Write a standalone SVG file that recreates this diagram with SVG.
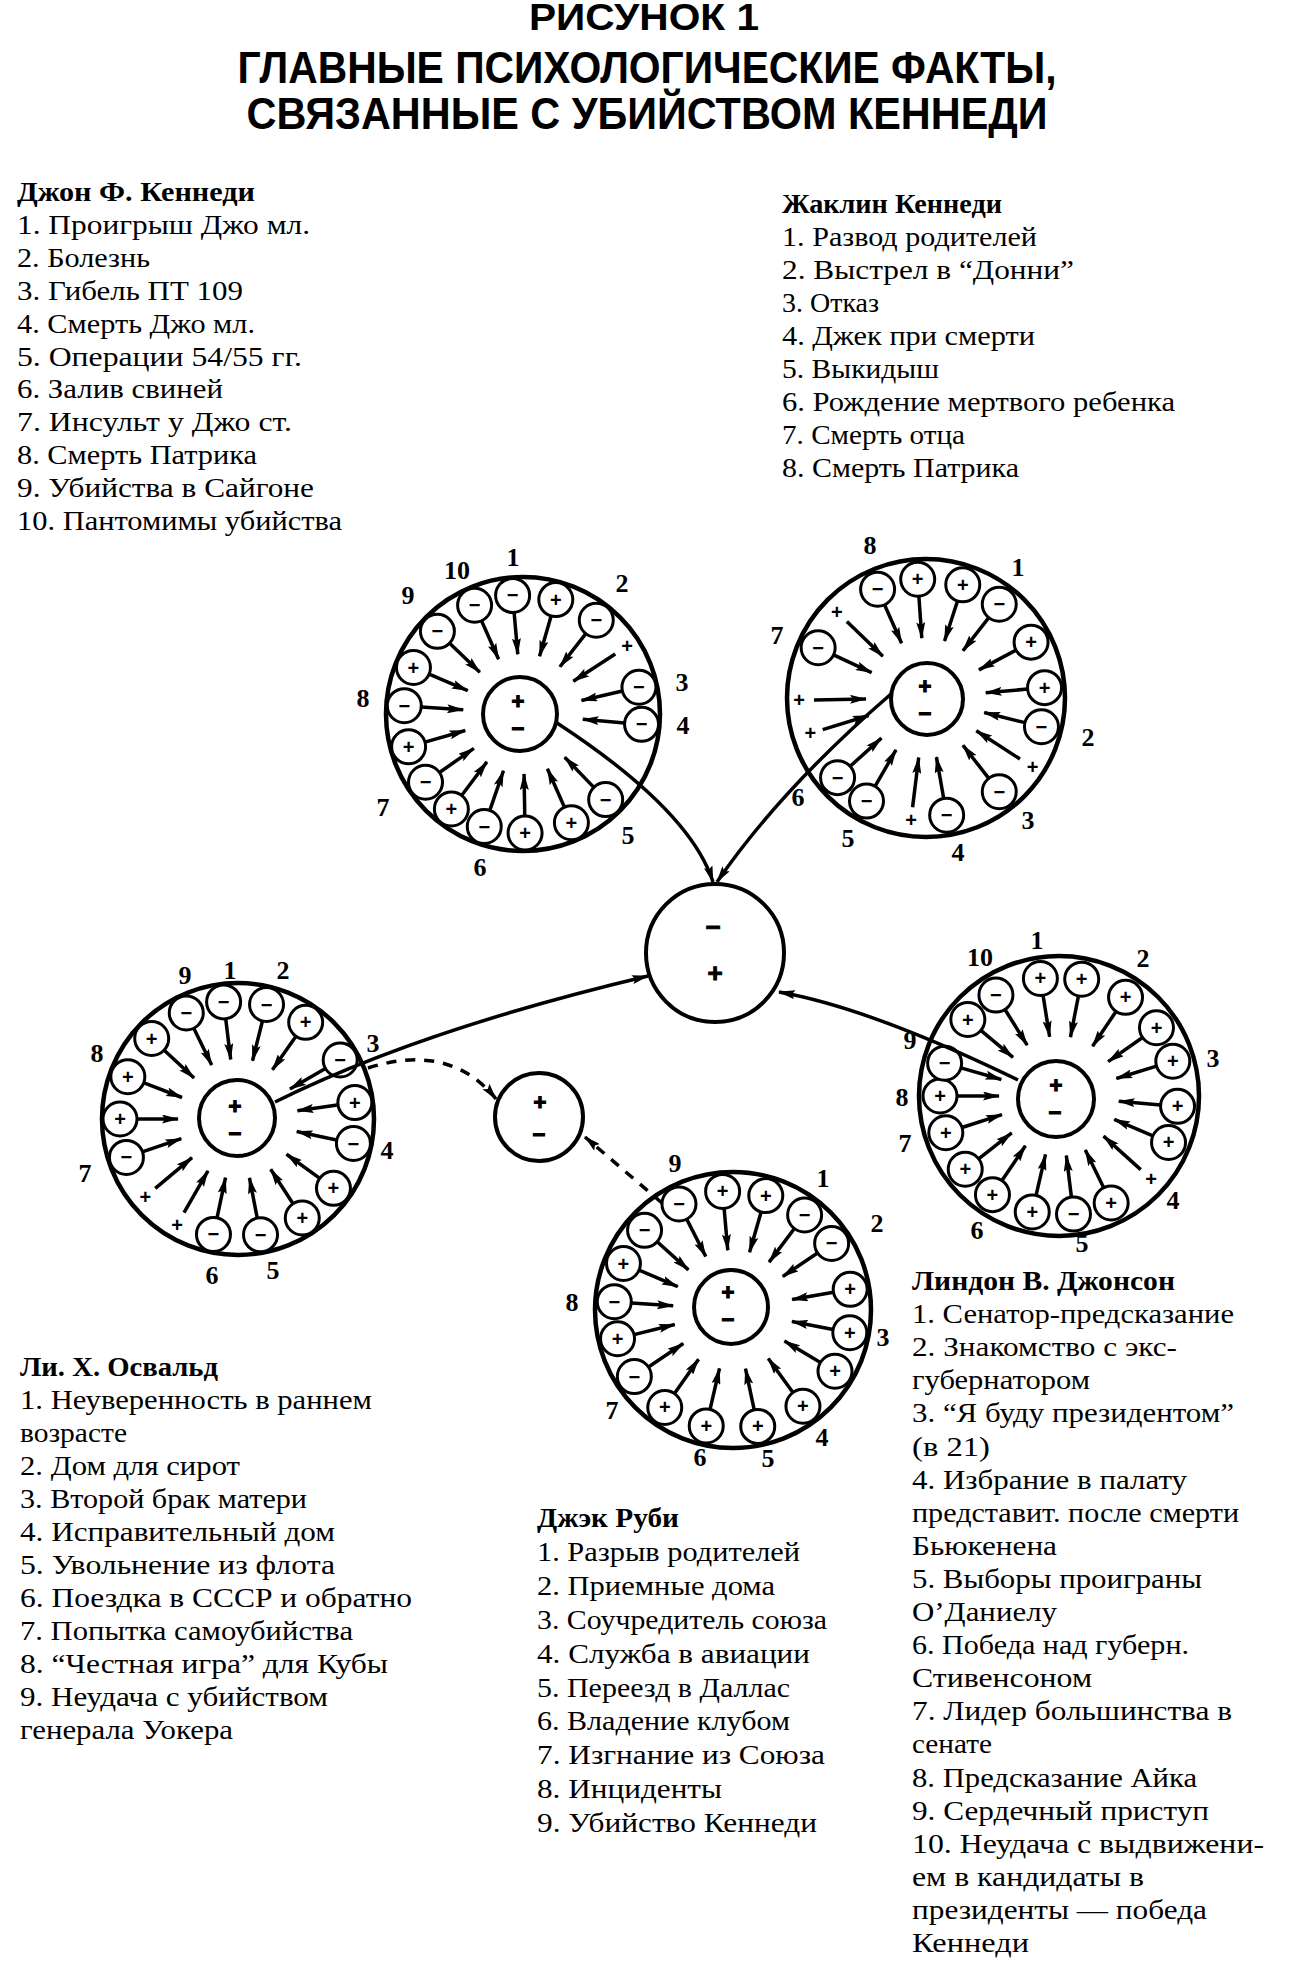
<svg xmlns="http://www.w3.org/2000/svg" width="1305" height="1984" viewBox="0 0 1305 1984">
<style>
.big{fill:none;stroke:#000;stroke-width:4.5}
.inn{fill:none;stroke:#000;stroke-width:4}
.sm{fill:#fff;stroke:#000;stroke-width:3}
.sp{stroke:#000;stroke-width:3.5;marker-end:url(#ah)}
.sg{font-family:"Liberation Sans",Arial,sans-serif;font-weight:bold;font-size:20px;text-anchor:middle}
.isg{font-family:"Liberation Sans",Arial,sans-serif;font-weight:bold;font-size:22px;text-anchor:middle;stroke:#000;stroke-width:1.2}
.csg{font-family:"Liberation Sans",Arial,sans-serif;font-weight:bold;font-size:26px;text-anchor:middle;stroke:#000;stroke-width:1}
.num{font-family:"Liberation Serif","Times New Roman",serif;font-weight:bold;font-size:26px;text-anchor:middle}
.tx{font-family:"Liberation Serif","Times New Roman",serif;font-size:27px}
.hd{font-weight:bold}
.ttl{font-family:"Liberation Sans",Arial,sans-serif;font-weight:bold;text-anchor:middle}
.con{fill:none;stroke:#000;stroke-width:3.5;marker-end:url(#ah)}
.dash{stroke-dasharray:10 9}
</style>
<defs>
<marker id="ah" viewBox="0 0 17 9" refX="16" refY="4.5" markerWidth="17" markerHeight="9" orient="auto" markerUnits="userSpaceOnUse"><path d="M0,0 L17,4.5 L0,9 L3,4.5 z" fill="#000"/></marker>
</defs>
<rect width="1305" height="1984" fill="#fff"/>

<g id="title">
<text class="ttl" x="644" y="30" font-size="36" textLength="230" lengthAdjust="spacingAndGlyphs">РИСУНОК 1</text>
<text class="ttl" x="647" y="83" font-size="44" textLength="819" lengthAdjust="spacingAndGlyphs">ГЛАВНЫЕ ПСИХОЛОГИЧЕСКИЕ ФАКТЫ,</text>
<text class="ttl" x="647" y="129" font-size="44" textLength="801" lengthAdjust="spacingAndGlyphs">СВЯЗАННЫЕ С УБИЙСТВОМ КЕННЕДИ</text>
</g>

<g id="text-jfk" class="tx">
<text class="hd" x="17" y="201" textLength="238" lengthAdjust="spacingAndGlyphs">Джон Ф. Кеннеди</text>
<text x="17" y="234" textLength="293" lengthAdjust="spacingAndGlyphs">1. Проигрыш Джо мл.</text>
<text x="17" y="267" textLength="133" lengthAdjust="spacingAndGlyphs">2. Болезнь</text>
<text x="17" y="300" textLength="226" lengthAdjust="spacingAndGlyphs">3. Гибель ПТ 109</text>
<text x="17" y="333" textLength="238" lengthAdjust="spacingAndGlyphs">4. Смерть Джо мл.</text>
<text x="17" y="366" textLength="285" lengthAdjust="spacingAndGlyphs">5. Операции 54/55 гг.</text>
<text x="17" y="398" textLength="206" lengthAdjust="spacingAndGlyphs">6. Залив свиней</text>
<text x="17" y="431" textLength="275" lengthAdjust="spacingAndGlyphs">7. Инсульт у Джо ст.</text>
<text x="17" y="464" textLength="240" lengthAdjust="spacingAndGlyphs">8. Смерть Патрика</text>
<text x="17" y="497" textLength="297" lengthAdjust="spacingAndGlyphs">9. Убийства в Сайгоне</text>
<text x="17" y="530" textLength="325" lengthAdjust="spacingAndGlyphs">10. Пантомимы убийства</text>
</g>

<g id="text-jackie" class="tx">
<text class="hd" x="782" y="213" textLength="220" lengthAdjust="spacingAndGlyphs">Жаклин Кеннеди</text>
<text x="782" y="246" textLength="255" lengthAdjust="spacingAndGlyphs">1. Развод родителей</text>
<text x="782" y="279" textLength="292" lengthAdjust="spacingAndGlyphs">2. Выстрел в “Донни”</text>
<text x="782" y="312" textLength="97" lengthAdjust="spacingAndGlyphs">3. Отказ</text>
<text x="782" y="345" textLength="253" lengthAdjust="spacingAndGlyphs">4. Джек при смерти</text>
<text x="782" y="378" textLength="157" lengthAdjust="spacingAndGlyphs">5. Выкидыш</text>
<text x="782" y="411" textLength="393" lengthAdjust="spacingAndGlyphs">6. Рождение мертвого ребенка</text>
<text x="782" y="444" textLength="183" lengthAdjust="spacingAndGlyphs">7. Смерть отца</text>
<text x="782" y="477" textLength="237" lengthAdjust="spacingAndGlyphs">8. Смерть Патрика</text>
</g>

<g id="text-oswald" class="tx">
<text class="hd" x="20" y="1376" textLength="198" lengthAdjust="spacingAndGlyphs">Ли. Х. Освальд</text>
<text x="20" y="1409" textLength="352" lengthAdjust="spacingAndGlyphs">1. Неуверенность в раннем</text>
<text x="20" y="1442" textLength="107" lengthAdjust="spacingAndGlyphs">возрасте</text>
<text x="20" y="1475" textLength="220" lengthAdjust="spacingAndGlyphs">2. Дом для сирот</text>
<text x="20" y="1508" textLength="287" lengthAdjust="spacingAndGlyphs">3. Второй брак матери</text>
<text x="20" y="1541" textLength="315" lengthAdjust="spacingAndGlyphs">4. Исправительный дом</text>
<text x="20" y="1574" textLength="315" lengthAdjust="spacingAndGlyphs">5. Увольнение из флота</text>
<text x="20" y="1607" textLength="392" lengthAdjust="spacingAndGlyphs">6. Поездка в СССР и обратно</text>
<text x="20" y="1640" textLength="333" lengthAdjust="spacingAndGlyphs">7. Попытка самоубийства</text>
<text x="20" y="1673" textLength="368" lengthAdjust="spacingAndGlyphs">8. “Честная игра” для Кубы</text>
<text x="20" y="1706" textLength="308" lengthAdjust="spacingAndGlyphs">9. Неудача с убийством</text>
<text x="20" y="1739" textLength="213" lengthAdjust="spacingAndGlyphs">генерала Уокера</text>
</g>

<g id="text-ruby" class="tx">
<text class="hd" x="537" y="1527" textLength="142" lengthAdjust="spacingAndGlyphs">Джэк Руби</text>
<text x="537" y="1561" textLength="263" lengthAdjust="spacingAndGlyphs">1. Разрыв родителей</text>
<text x="537" y="1595" textLength="238" lengthAdjust="spacingAndGlyphs">2. Приемные дома</text>
<text x="537" y="1629" textLength="290" lengthAdjust="spacingAndGlyphs">3. Соучредитель союза</text>
<text x="537" y="1663" textLength="273" lengthAdjust="spacingAndGlyphs">4. Служба в авиации</text>
<text x="537" y="1697" textLength="253" lengthAdjust="spacingAndGlyphs">5. Переезд в Даллас</text>
<text x="537" y="1730" textLength="253" lengthAdjust="spacingAndGlyphs">6. Владение клубом</text>
<text x="537" y="1764" textLength="288" lengthAdjust="spacingAndGlyphs">7. Изгнание из Союза</text>
<text x="537" y="1798" textLength="185" lengthAdjust="spacingAndGlyphs">8. Инциденты</text>
<text x="537" y="1832" textLength="280" lengthAdjust="spacingAndGlyphs">9. Убийство Кеннеди</text>
</g>

<g id="text-lbj" class="tx">
<text class="hd" x="912" y="1290" textLength="263" lengthAdjust="spacingAndGlyphs">Линдон В. Джонсон</text>
<text x="912" y="1323" textLength="322" lengthAdjust="spacingAndGlyphs">1. Сенатор-предсказание</text>
<text x="912" y="1356" textLength="265" lengthAdjust="spacingAndGlyphs">2. Знакомство с экс-</text>
<text x="912" y="1389" textLength="178" lengthAdjust="spacingAndGlyphs">губернатором</text>
<text x="912" y="1422" textLength="322" lengthAdjust="spacingAndGlyphs">3. “Я буду президентом”</text>
<text x="912" y="1456" textLength="78" lengthAdjust="spacingAndGlyphs">(в 21)</text>
<text x="912" y="1489" textLength="275" lengthAdjust="spacingAndGlyphs">4. Избрание в палату</text>
<text x="912" y="1522" textLength="327" lengthAdjust="spacingAndGlyphs">представит. после смерти</text>
<text x="912" y="1555" textLength="145" lengthAdjust="spacingAndGlyphs">Бьюкенена</text>
<text x="912" y="1588" textLength="290" lengthAdjust="spacingAndGlyphs">5. Выборы проиграны</text>
<text x="912" y="1621" textLength="145" lengthAdjust="spacingAndGlyphs">О’Даниелу</text>
<text x="912" y="1654" textLength="277" lengthAdjust="spacingAndGlyphs">6. Победа над губерн.</text>
<text x="912" y="1687" textLength="180" lengthAdjust="spacingAndGlyphs">Стивенсоном</text>
<text x="912" y="1720" textLength="320" lengthAdjust="spacingAndGlyphs">7. Лидер большинства в</text>
<text x="912" y="1753" textLength="80" lengthAdjust="spacingAndGlyphs">сенате</text>
<text x="912" y="1787" textLength="285" lengthAdjust="spacingAndGlyphs">8. Предсказание Айка</text>
<text x="912" y="1820" textLength="297" lengthAdjust="spacingAndGlyphs">9. Сердечный приступ</text>
<text x="912" y="1853" textLength="352" lengthAdjust="spacingAndGlyphs">10. Неудача с выдвижени-</text>
<text x="912" y="1886" textLength="232" lengthAdjust="spacingAndGlyphs">ем в кандидаты в</text>
<text x="912" y="1919" textLength="295" lengthAdjust="spacingAndGlyphs">президенты — победа</text>
<text x="912" y="1952" textLength="117" lengthAdjust="spacingAndGlyphs">Кеннеди</text>
</g>

<!-- JFK node -->
<g id="node-jfk">
<g transform="translate(523,714)">
<circle class="big" r="137"/>
<g transform="rotate(-95)"><line class="sp" x1="102" y1="0" x2="60" y2="0"/><g transform="translate(119,0) rotate(95)"><circle class="sm" r="17"/><text class="sg" y="7">−</text></g></g>
<g transform="rotate(-74)"><line class="sp" x1="102" y1="0" x2="60" y2="0"/><g transform="translate(119,0) rotate(74)"><circle class="sm" r="17"/><text class="sg" y="7">+</text></g></g>
<g transform="rotate(-52)"><line class="sp" x1="102" y1="0" x2="60" y2="0"/><g transform="translate(119,0) rotate(52)"><circle class="sm" r="17"/><text class="sg" y="7">−</text></g></g>
<g transform="rotate(-33)"><line class="sp" x1="110" y1="0" x2="60" y2="0"/><text class="sg" transform="translate(124,0) rotate(33)" y="7">+</text></g>
<g transform="rotate(-13)"><line class="sp" x1="102" y1="0" x2="60" y2="0"/><g transform="translate(119,0) rotate(13)"><circle class="sm" r="17"/><text class="sg" y="7">−</text></g></g>
<g transform="rotate(5)"><line class="sp" x1="102" y1="0" x2="60" y2="0"/><g transform="translate(119,0) rotate(-5)"><circle class="sm" r="17"/><text class="sg" y="7">−</text></g></g>
<g transform="rotate(46)"><line class="sp" x1="102" y1="0" x2="60" y2="0"/><g transform="translate(119,0) rotate(-46)"><circle class="sm" r="17"/><text class="sg" y="7">−</text></g></g>
<g transform="rotate(66)"><line class="sp" x1="102" y1="0" x2="60" y2="0"/><g transform="translate(119,0) rotate(-66)"><circle class="sm" r="17"/><text class="sg" y="7">+</text></g></g>
<g transform="rotate(89)"><line class="sp" x1="102" y1="0" x2="60" y2="0"/><g transform="translate(119,0) rotate(-89)"><circle class="sm" r="17"/><text class="sg" y="7">+</text></g></g>
<g transform="rotate(109)"><line class="sp" x1="102" y1="0" x2="60" y2="0"/><g transform="translate(119,0) rotate(-109)"><circle class="sm" r="17"/><text class="sg" y="7">−</text></g></g>
<g transform="rotate(127)"><line class="sp" x1="102" y1="0" x2="60" y2="0"/><g transform="translate(119,0) rotate(-127)"><circle class="sm" r="17"/><text class="sg" y="7">+</text></g></g>
<g transform="rotate(145)"><line class="sp" x1="102" y1="0" x2="60" y2="0"/><g transform="translate(119,0) rotate(-145)"><circle class="sm" r="17"/><text class="sg" y="7">−</text></g></g>
<g transform="rotate(164)"><line class="sp" x1="102" y1="0" x2="60" y2="0"/><g transform="translate(119,0) rotate(-164)"><circle class="sm" r="17"/><text class="sg" y="7">+</text></g></g>
<g transform="rotate(184)"><line class="sp" x1="102" y1="0" x2="60" y2="0"/><g transform="translate(119,0) rotate(-184)"><circle class="sm" r="17"/><text class="sg" y="7">−</text></g></g>
<g transform="rotate(203)"><line class="sp" x1="102" y1="0" x2="60" y2="0"/><g transform="translate(119,0) rotate(-203)"><circle class="sm" r="17"/><text class="sg" y="7">+</text></g></g>
<g transform="rotate(224)"><line class="sp" x1="102" y1="0" x2="60" y2="0"/><g transform="translate(119,0) rotate(-224)"><circle class="sm" r="17"/><text class="sg" y="7">−</text></g></g>
<g transform="rotate(246)"><line class="sp" x1="102" y1="0" x2="60" y2="0"/><g transform="translate(119,0) rotate(-246)"><circle class="sm" r="17"/><text class="sg" y="7">−</text></g></g>
</g>
<circle class="inn" cx="520" cy="714" r="37"/>
<text class="isg" x="518" y="709">+</text>
<text class="isg" x="518" y="736">−</text>
<text class="num" x="513" y="566">1</text>
<text class="num" x="457" y="579">10</text>
<text class="num" x="408" y="604">9</text>
<text class="num" x="622" y="592">2</text>
<text class="num" x="682" y="691">3</text>
<text class="num" x="683" y="734">4</text>
<text class="num" x="363" y="707">8</text>
<text class="num" x="383" y="816">7</text>
<text class="num" x="480" y="876">6</text>
<text class="num" x="628" y="844">5</text>
</g>

<!-- Jackie node -->
<g id="node-jackie">
<g transform="translate(926,698)">
<circle class="big" r="139"/>
<g transform="rotate(-114)"><line class="sp" x1="102" y1="0" x2="60" y2="0"/><g transform="translate(119,0) rotate(114)"><circle class="sm" r="17"/><text class="sg" y="7">−</text></g></g>
<g transform="rotate(-94)"><line class="sp" x1="102" y1="0" x2="60" y2="0"/><g transform="translate(119,0) rotate(94)"><circle class="sm" r="17"/><text class="sg" y="7">+</text></g></g>
<g transform="rotate(-72)"><line class="sp" x1="102" y1="0" x2="60" y2="0"/><g transform="translate(119,0) rotate(72)"><circle class="sm" r="17"/><text class="sg" y="7">+</text></g></g>
<g transform="rotate(-52)"><line class="sp" x1="102" y1="0" x2="60" y2="0"/><g transform="translate(119,0) rotate(52)"><circle class="sm" r="17"/><text class="sg" y="7">−</text></g></g>
<g transform="rotate(-28)"><line class="sp" x1="102" y1="0" x2="60" y2="0"/><g transform="translate(119,0) rotate(28)"><circle class="sm" r="17"/><text class="sg" y="7">+</text></g></g>
<g transform="rotate(-5)"><line class="sp" x1="102" y1="0" x2="60" y2="0"/><g transform="translate(119,0) rotate(5)"><circle class="sm" r="17"/><text class="sg" y="7">+</text></g></g>
<g transform="rotate(14)"><line class="sp" x1="102" y1="0" x2="60" y2="0"/><g transform="translate(119,0) rotate(-14)"><circle class="sm" r="17"/><text class="sg" y="7">−</text></g></g>
<g transform="rotate(33)"><line class="sp" x1="112" y1="0" x2="60" y2="0"/><text class="sg" transform="translate(127,0) rotate(-33)" y="7">+</text></g>
<g transform="rotate(52)"><line class="sp" x1="102" y1="0" x2="60" y2="0"/><g transform="translate(119,0) rotate(-52)"><circle class="sm" r="17"/><text class="sg" y="7">−</text></g></g>
<g transform="rotate(80)"><line class="sp" x1="102" y1="0" x2="60" y2="0"/><g transform="translate(119,0) rotate(-80)"><circle class="sm" r="17"/><text class="sg" y="7">−</text></g></g>
<g transform="rotate(97)"><line class="sp" x1="110" y1="0" x2="60" y2="0"/><text class="sg" transform="translate(123,0) rotate(-97)" y="7">+</text></g>
<g transform="rotate(120)"><line class="sp" x1="102" y1="0" x2="60" y2="0"/><g transform="translate(119,0) rotate(-120)"><circle class="sm" r="17"/><text class="sg" y="7">−</text></g></g>
<g transform="rotate(138)"><line class="sp" x1="102" y1="0" x2="60" y2="0"/><g transform="translate(119,0) rotate(-138)"><circle class="sm" r="17"/><text class="sg" y="7">−</text></g></g>
<g transform="rotate(163)"><line class="sp" x1="108" y1="0" x2="60" y2="0"/><text class="sg" transform="translate(121,0) rotate(-163)" y="7">+</text></g>
<g transform="rotate(179)"><line class="sp" x1="112" y1="0" x2="60" y2="0"/><text class="sg" transform="translate(127,0) rotate(-179)" y="7">+</text></g>
<g transform="rotate(205)"><line class="sp" x1="102" y1="0" x2="60" y2="0"/><g transform="translate(119,0) rotate(-205)"><circle class="sm" r="17"/><text class="sg" y="7">−</text></g></g>
<g transform="rotate(224)"><line class="sp" x1="110" y1="0" x2="60" y2="0"/><text class="sg" transform="translate(124,0) rotate(-224)" y="7">+</text></g>
</g>
<circle class="inn" cx="927" cy="699" r="36"/>
<text class="isg" x="925" y="694">+</text>
<text class="isg" x="925" y="721">−</text>
<text class="num" x="870" y="554">8</text>
<text class="num" x="1018" y="576">1</text>
<text class="num" x="777" y="644">7</text>
<text class="num" x="1088" y="746">2</text>
<text class="num" x="1028" y="829">3</text>
<text class="num" x="958" y="861">4</text>
<text class="num" x="848" y="847">5</text>
<text class="num" x="798" y="806">6</text>
</g>

<!-- central node -->
<g id="node-center">
<circle class="inn" cx="715" cy="953" r="69"/>
<text class="csg" x="713" y="936">−</text>
<text class="csg" x="715" y="982">+</text>
</g>

<!-- small +/- node -->
<g id="node-small">
<circle class="inn" cx="539" cy="1117" r="44"/>
<text class="isg" x="540" y="1110">+</text>
<text class="isg" x="539" y="1142">−</text>
</g>

<!-- Oswald node -->
<g id="node-oswald">
<g transform="translate(238,1119)">
<circle class="big" r="136"/>
<g transform="rotate(-97)"><line class="sp" x1="102" y1="0" x2="60" y2="0"/><g transform="translate(118,0) rotate(97)"><circle class="sm" r="17"/><text class="sg" y="7">−</text></g></g>
<g transform="rotate(-76)"><line class="sp" x1="102" y1="0" x2="60" y2="0"/><g transform="translate(118,0) rotate(76)"><circle class="sm" r="17"/><text class="sg" y="7">−</text></g></g>
<g transform="rotate(-55)"><line class="sp" x1="102" y1="0" x2="60" y2="0"/><g transform="translate(118,0) rotate(55)"><circle class="sm" r="17"/><text class="sg" y="7">+</text></g></g>
<g transform="rotate(-30)"><line class="sp" x1="102" y1="0" x2="60" y2="0"/><g transform="translate(118,0) rotate(30)"><circle class="sm" r="17"/><text class="sg" y="7">−</text></g></g>
<g transform="rotate(-8)"><line class="sp" x1="102" y1="0" x2="60" y2="0"/><g transform="translate(118,0) rotate(8)"><circle class="sm" r="17"/><text class="sg" y="7">+</text></g></g>
<g transform="rotate(12)"><line class="sp" x1="102" y1="0" x2="60" y2="0"/><g transform="translate(118,0) rotate(-12)"><circle class="sm" r="17"/><text class="sg" y="7">−</text></g></g>
<g transform="rotate(36)"><line class="sp" x1="102" y1="0" x2="60" y2="0"/><g transform="translate(118,0) rotate(-36)"><circle class="sm" r="17"/><text class="sg" y="7">+</text></g></g>
<g transform="rotate(57)"><line class="sp" x1="102" y1="0" x2="60" y2="0"/><g transform="translate(118,0) rotate(-57)"><circle class="sm" r="17"/><text class="sg" y="7">+</text></g></g>
<g transform="rotate(79)"><line class="sp" x1="102" y1="0" x2="60" y2="0"/><g transform="translate(118,0) rotate(-79)"><circle class="sm" r="17"/><text class="sg" y="7">−</text></g></g>
<g transform="rotate(102)"><line class="sp" x1="102" y1="0" x2="60" y2="0"/><g transform="translate(118,0) rotate(-102)"><circle class="sm" r="17"/><text class="sg" y="7">−</text></g></g>
<g transform="rotate(120)"><line class="sp" x1="108" y1="0" x2="60" y2="0"/><text class="sg" transform="translate(122,0) rotate(-120)" y="7">+</text></g>
<g transform="rotate(140)"><line class="sp" x1="108" y1="0" x2="60" y2="0"/><text class="sg" transform="translate(121,0) rotate(-140)" y="7">+</text></g>
<g transform="rotate(161)"><line class="sp" x1="102" y1="0" x2="60" y2="0"/><g transform="translate(118,0) rotate(-161)"><circle class="sm" r="17"/><text class="sg" y="7">−</text></g></g>
<g transform="rotate(180)"><line class="sp" x1="102" y1="0" x2="60" y2="0"/><g transform="translate(118,0) rotate(-180)"><circle class="sm" r="17"/><text class="sg" y="7">+</text></g></g>
<g transform="rotate(201)"><line class="sp" x1="102" y1="0" x2="60" y2="0"/><g transform="translate(118,0) rotate(-201)"><circle class="sm" r="17"/><text class="sg" y="7">+</text></g></g>
<g transform="rotate(223)"><line class="sp" x1="102" y1="0" x2="60" y2="0"/><g transform="translate(118,0) rotate(-223)"><circle class="sm" r="17"/><text class="sg" y="7">+</text></g></g>
<g transform="rotate(244)"><line class="sp" x1="102" y1="0" x2="60" y2="0"/><g transform="translate(118,0) rotate(-244)"><circle class="sm" r="17"/><text class="sg" y="7">−</text></g></g>
</g>
<circle class="inn" cx="237" cy="1118" r="38"/>
<text class="isg" x="235" y="1114">+</text>
<text class="isg" x="235" y="1141">−</text>
<text class="num" x="185" y="984">9</text>
<text class="num" x="230" y="979">1</text>
<text class="num" x="283" y="979">2</text>
<text class="num" x="373" y="1052">3</text>
<text class="num" x="97" y="1062">8</text>
<text class="num" x="387" y="1159">4</text>
<text class="num" x="85" y="1182">7</text>
<text class="num" x="212" y="1284">6</text>
<text class="num" x="273" y="1279">5</text>
</g>

<!-- LBJ node -->
<g id="node-lbj">
<g transform="translate(1059,1096)">
<circle class="big" r="140"/>
<g transform="rotate(-99)"><line class="sp" x1="102" y1="0" x2="60" y2="0"/><g transform="translate(119,0) rotate(99)"><circle class="sm" r="17"/><text class="sg" y="7">+</text></g></g>
<g transform="rotate(-79)"><line class="sp" x1="102" y1="0" x2="60" y2="0"/><g transform="translate(119,0) rotate(79)"><circle class="sm" r="17"/><text class="sg" y="7">+</text></g></g>
<g transform="rotate(-56)"><line class="sp" x1="102" y1="0" x2="60" y2="0"/><g transform="translate(119,0) rotate(56)"><circle class="sm" r="17"/><text class="sg" y="7">+</text></g></g>
<g transform="rotate(-35)"><line class="sp" x1="102" y1="0" x2="60" y2="0"/><g transform="translate(119,0) rotate(35)"><circle class="sm" r="17"/><text class="sg" y="7">+</text></g></g>
<g transform="rotate(-17)"><line class="sp" x1="102" y1="0" x2="60" y2="0"/><g transform="translate(119,0) rotate(17)"><circle class="sm" r="17"/><text class="sg" y="7">+</text></g></g>
<g transform="rotate(5)"><line class="sp" x1="102" y1="0" x2="60" y2="0"/><g transform="translate(119,0) rotate(-5)"><circle class="sm" r="17"/><text class="sg" y="7">+</text></g></g>
<g transform="rotate(23)"><line class="sp" x1="102" y1="0" x2="60" y2="0"/><g transform="translate(119,0) rotate(-23)"><circle class="sm" r="17"/><text class="sg" y="7">+</text></g></g>
<g transform="rotate(42)"><line class="sp" x1="110" y1="0" x2="60" y2="0"/><text class="sg" transform="translate(124,0) rotate(-42)" y="7">+</text></g>
<g transform="rotate(64)"><line class="sp" x1="102" y1="0" x2="60" y2="0"/><g transform="translate(119,0) rotate(-64)"><circle class="sm" r="17"/><text class="sg" y="7">+</text></g></g>
<g transform="rotate(83)"><line class="sp" x1="102" y1="0" x2="60" y2="0"/><g transform="translate(119,0) rotate(-83)"><circle class="sm" r="17"/><text class="sg" y="7">−</text></g></g>
<g transform="rotate(103)"><line class="sp" x1="102" y1="0" x2="60" y2="0"/><g transform="translate(119,0) rotate(-103)"><circle class="sm" r="17"/><text class="sg" y="7">+</text></g></g>
<g transform="rotate(124)"><line class="sp" x1="102" y1="0" x2="60" y2="0"/><g transform="translate(119,0) rotate(-124)"><circle class="sm" r="17"/><text class="sg" y="7">+</text></g></g>
<g transform="rotate(142)"><line class="sp" x1="102" y1="0" x2="60" y2="0"/><g transform="translate(119,0) rotate(-142)"><circle class="sm" r="17"/><text class="sg" y="7">+</text></g></g>
<g transform="rotate(162)"><line class="sp" x1="102" y1="0" x2="60" y2="0"/><g transform="translate(119,0) rotate(-162)"><circle class="sm" r="17"/><text class="sg" y="7">+</text></g></g>
<g transform="rotate(180)"><line class="sp" x1="102" y1="0" x2="60" y2="0"/><g transform="translate(119,0) rotate(-180)"><circle class="sm" r="17"/><text class="sg" y="7">+</text></g></g>
<g transform="rotate(196)"><line class="sp" x1="102" y1="0" x2="60" y2="0"/><g transform="translate(119,0) rotate(-196)"><circle class="sm" r="17"/><text class="sg" y="7">−</text></g></g>
<g transform="rotate(220)"><line class="sp" x1="102" y1="0" x2="60" y2="0"/><g transform="translate(119,0) rotate(-220)"><circle class="sm" r="17"/><text class="sg" y="7">+</text></g></g>
<g transform="rotate(238)"><line class="sp" x1="102" y1="0" x2="60" y2="0"/><g transform="translate(119,0) rotate(-238)"><circle class="sm" r="17"/><text class="sg" y="7">−</text></g></g>
</g>
<circle class="inn" cx="1056" cy="1099" r="38"/>
<text class="isg" x="1056" y="1093">+</text>
<text class="isg" x="1055" y="1120">−</text>
<text class="num" x="980" y="966">10</text>
<text class="num" x="1037" y="949">1</text>
<text class="num" x="1143" y="967">2</text>
<text class="num" x="1213" y="1067">3</text>
<text class="num" x="910" y="1049">9</text>
<text class="num" x="902" y="1106">8</text>
<text class="num" x="905" y="1152">7</text>
<text class="num" x="977" y="1239">6</text>
<text class="num" x="1082" y="1252">5</text>
<text class="num" x="1173" y="1209">4</text>
</g>

<!-- Ruby node -->
<g id="node-ruby">
<g transform="translate(733,1310)">
<circle class="big" r="138"/>
<g transform="rotate(-117)"><line class="sp" x1="102" y1="0" x2="60" y2="0"/><g transform="translate(119,0) rotate(117)"><circle class="sm" r="17"/><text class="sg" y="7">−</text></g></g>
<g transform="rotate(-95)"><line class="sp" x1="102" y1="0" x2="60" y2="0"/><g transform="translate(119,0) rotate(95)"><circle class="sm" r="17"/><text class="sg" y="7">+</text></g></g>
<g transform="rotate(-74)"><line class="sp" x1="102" y1="0" x2="60" y2="0"/><g transform="translate(119,0) rotate(74)"><circle class="sm" r="17"/><text class="sg" y="7">+</text></g></g>
<g transform="rotate(-53)"><line class="sp" x1="102" y1="0" x2="60" y2="0"/><g transform="translate(119,0) rotate(53)"><circle class="sm" r="17"/><text class="sg" y="7">−</text></g></g>
<g transform="rotate(-34)"><line class="sp" x1="102" y1="0" x2="60" y2="0"/><g transform="translate(119,0) rotate(34)"><circle class="sm" r="17"/><text class="sg" y="7">−</text></g></g>
<g transform="rotate(-10)"><line class="sp" x1="102" y1="0" x2="60" y2="0"/><g transform="translate(119,0) rotate(10)"><circle class="sm" r="17"/><text class="sg" y="7">+</text></g></g>
<g transform="rotate(11)"><line class="sp" x1="102" y1="0" x2="60" y2="0"/><g transform="translate(119,0) rotate(-11)"><circle class="sm" r="17"/><text class="sg" y="7">+</text></g></g>
<g transform="rotate(31)"><line class="sp" x1="102" y1="0" x2="60" y2="0"/><g transform="translate(119,0) rotate(-31)"><circle class="sm" r="17"/><text class="sg" y="7">+</text></g></g>
<g transform="rotate(54)"><line class="sp" x1="102" y1="0" x2="60" y2="0"/><g transform="translate(119,0) rotate(-54)"><circle class="sm" r="17"/><text class="sg" y="7">+</text></g></g>
<g transform="rotate(78)"><line class="sp" x1="102" y1="0" x2="60" y2="0"/><g transform="translate(119,0) rotate(-78)"><circle class="sm" r="17"/><text class="sg" y="7">+</text></g></g>
<g transform="rotate(103)"><line class="sp" x1="102" y1="0" x2="60" y2="0"/><g transform="translate(119,0) rotate(-103)"><circle class="sm" r="17"/><text class="sg" y="7">+</text></g></g>
<g transform="rotate(125)"><line class="sp" x1="102" y1="0" x2="60" y2="0"/><g transform="translate(119,0) rotate(-125)"><circle class="sm" r="17"/><text class="sg" y="7">+</text></g></g>
<g transform="rotate(146)"><line class="sp" x1="102" y1="0" x2="60" y2="0"/><g transform="translate(119,0) rotate(-146)"><circle class="sm" r="17"/><text class="sg" y="7">−</text></g></g>
<g transform="rotate(166)"><line class="sp" x1="102" y1="0" x2="60" y2="0"/><g transform="translate(119,0) rotate(-166)"><circle class="sm" r="17"/><text class="sg" y="7">+</text></g></g>
<g transform="rotate(184)"><line class="sp" x1="102" y1="0" x2="60" y2="0"/><g transform="translate(119,0) rotate(-184)"><circle class="sm" r="17"/><text class="sg" y="7">−</text></g></g>
<g transform="rotate(203)"><line class="sp" x1="102" y1="0" x2="60" y2="0"/><g transform="translate(119,0) rotate(-203)"><circle class="sm" r="17"/><text class="sg" y="7">+</text></g></g>
<g transform="rotate(222)"><line class="sp" x1="102" y1="0" x2="60" y2="0"/><g transform="translate(119,0) rotate(-222)"><circle class="sm" r="17"/><text class="sg" y="7">−</text></g></g>
</g>
<circle class="inn" cx="731" cy="1307" r="37"/>
<text class="isg" x="728" y="1300">+</text>
<text class="isg" x="728" y="1327">−</text>
<text class="num" x="675" y="1172">9</text>
<text class="num" x="823" y="1187">1</text>
<text class="num" x="877" y="1232">2</text>
<text class="num" x="883" y="1346">3</text>
<text class="num" x="572" y="1311">8</text>
<text class="num" x="612" y="1419">7</text>
<text class="num" x="700" y="1466">6</text>
<text class="num" x="768" y="1467">5</text>
<text class="num" x="822" y="1446">4</text>
</g>

<g id="connectors">
<path class="con" d="M 557 723 Q 690 810 713 882"/>
<path class="con" d="M 891 694 Q 780 790 717 882"/>
<path class="con" d="M 275 1102 Q 420 1030 648 976"/>
<path class="con" d="M 1018 1080 Q 870 1008 779 992"/>
<path class="con dash" d="M 368 1068 Q 450 1042 496 1099"/>
<path class="con dash" d="M 662 1203 L 585 1137"/>
</g>
</svg>
